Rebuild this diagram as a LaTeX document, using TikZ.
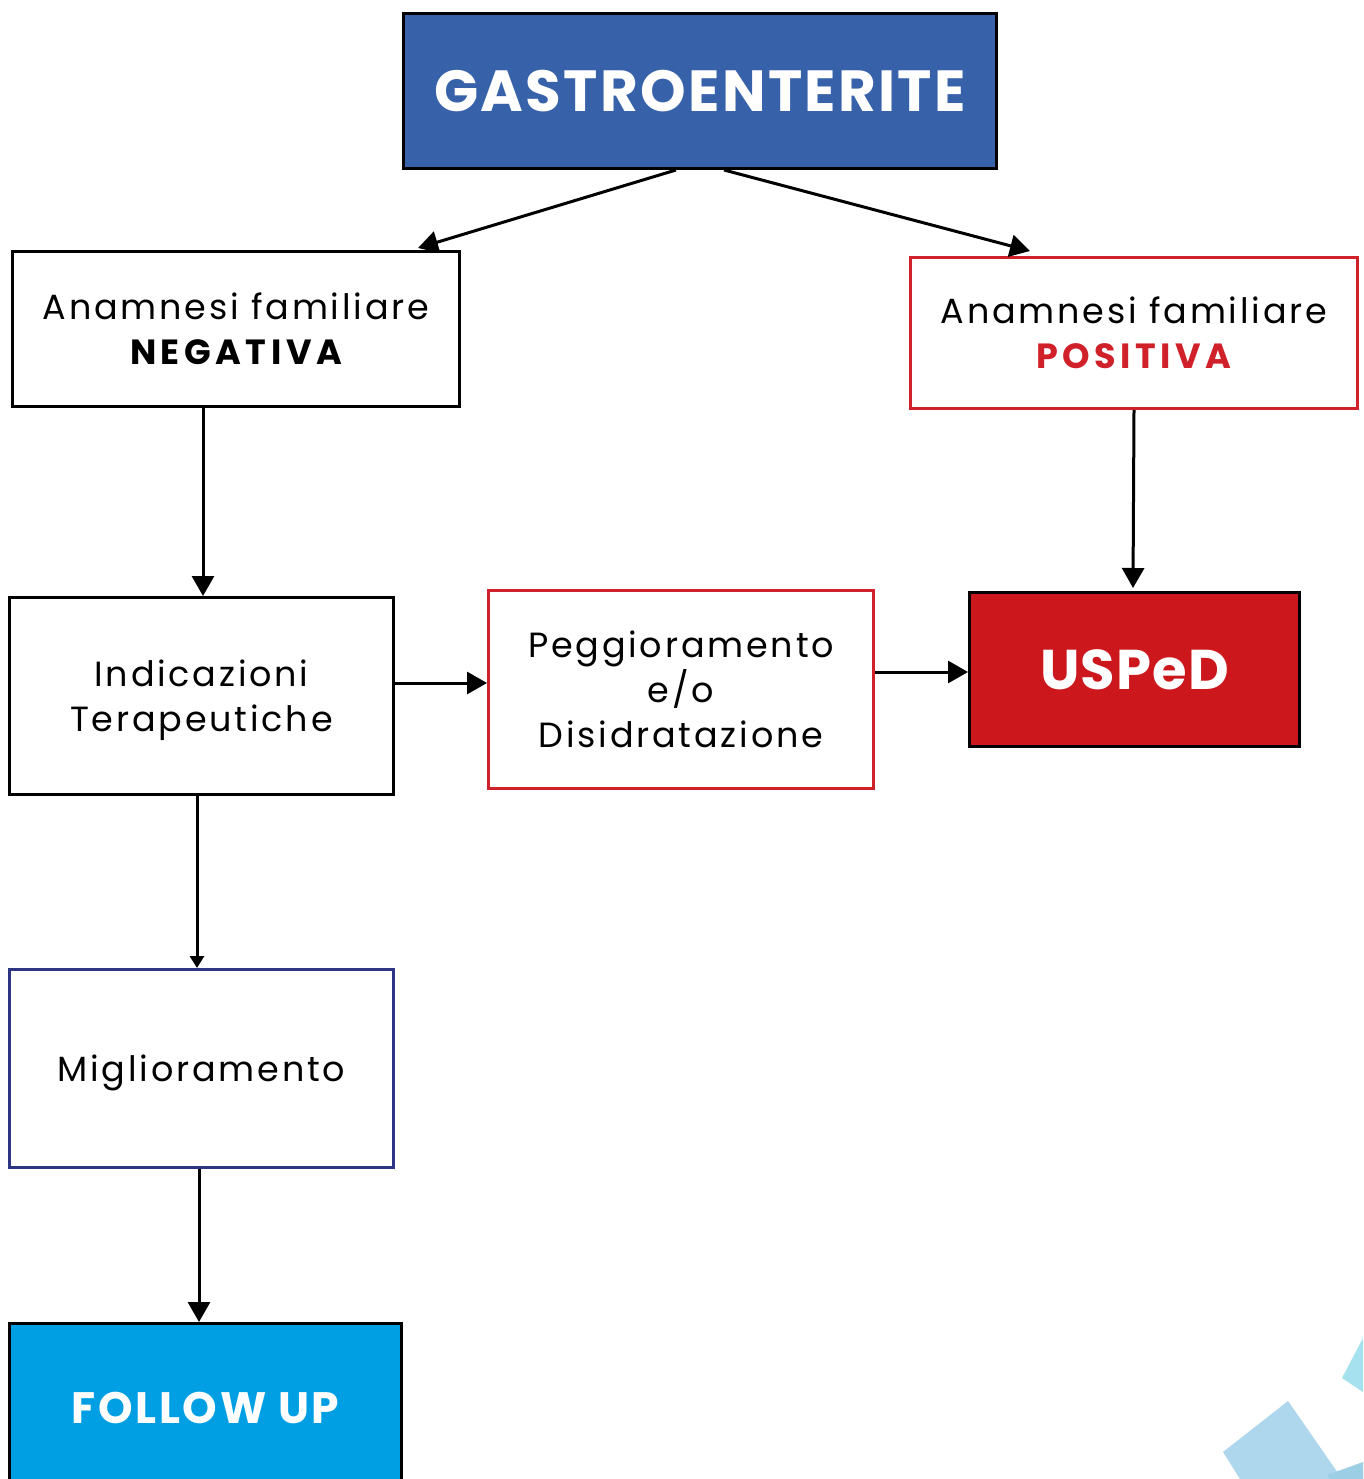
\documentclass[tikz,border=0pt]{standalone}
\usepackage{fontspec}
\setmainfont{Poppins}
\usetikzlibrary{arrows.meta,calc}
\definecolor{gblue}{HTML}{3762AA}
\definecolor{ured}{HTML}{CC181C}
\definecolor{bred}{HTML}{D0212A}
\definecolor{navy}{HTML}{2E3583}
\definecolor{fcyan}{HTML}{009FE3}
\definecolor{deco1}{HTML}{AED6EC}
\definecolor{deco2}{HTML}{A6E1F0}
\definecolor{deco3}{HTML}{9CCFE6}
\newcommand{\bwd}[1]{{\bfseries\addfontfeature{LetterSpace=13}#1}}
\newcommand{\topstrut}{\rule{0pt}{36pt}}
\begin{document}
\begin{tikzpicture}[x=1pt,y=-1pt,
  box/.style={draw=black,line width=3pt,anchor=north west,inner sep=0pt,align=center,
    font=\fontsize{35}{45}\selectfont\addfontfeature{LetterSpace=8}},
  redbox/.style={box,draw=bred},
  arr/.style={line width=3pt,-{Triangle[length=20pt,width=22pt]}},
  sarr/.style={line width=3pt,-{Triangle[length=12pt,width=14pt]}}]
\clip (0,0) rectangle (1363,1479);
\fill[white] (0,0) rectangle (1363,1479);
% decoration
\fill[deco1] (1223,1452) -- (1288,1401) -- (1340,1476) -- (1363,1470) -- (1363,1479) -- (1240,1479) -- cycle;
\fill[deco2] (1342,1378) -- (1363,1338) -- (1363,1392) -- cycle;
\fill[deco3] (1327,1475) -- (1363,1462) -- (1363,1479) -- (1330,1479) -- cycle;
% nodes
\node[box,fill=gblue,minimum width=593pt,minimum height=155pt,text=white,
  font=\fontsize{58}{60}\selectfont\bfseries\addfontfeature{LetterSpace=4}] (g) at (402,12) {GASTROENTERITE};
\node[box,minimum width=447pt,minimum height=155pt] (neg) at (11,250) {Anamnesi familiare\\\bwd{NEGATIVA}};
\node[redbox,minimum width=447pt,minimum height=151pt] (pos) at (909,256) {Anamnesi familiare\\\textcolor{bred}{\bwd{POSITIVA}}};
\node[box,minimum width=384pt,minimum height=197pt] (ind) at (8,596) {\topstrut Indicazioni\\Terapeutiche};
\node[redbox,minimum width=385pt,minimum height=198pt] (peg) at (487,589) {Peggioramento\\e/o\\Disidratazione};
\node[box,fill=ured,minimum width=330pt,minimum height=154pt,text=white,
  font=\fontsize{56}{60}\selectfont\bfseries\addfontfeature{LetterSpace=2}] (usp) at (968,591) {USPeD};
\node[box,draw=navy,minimum width=384pt,minimum height=198pt] (mig) at (8,968) {\topstrut Miglioramento};
\node[box,fill=fcyan,minimum width=392pt,minimum height=168pt,text=white,
  font=\fontsize{44}{45}\selectfont\bfseries\addfontfeature{LetterSpace=6}] (fol) at (8,1322) {FOLLOW UP};
% connectors
\draw[arr] ([xshift=-24pt]g.south) -- ($(neg.north west)+(407,-2)$);
\draw[arr] ([xshift=24pt]g.south) -- ($(pos.north west)+(121,-5)$);
\draw[arr] (neg.south -| 203,0) -- (ind.north -| 203,0);
\draw[arr] (pos.south) -- (1133,588);
\draw[arr] (ind.east |- 0,683) -- (peg.west |- 0,683);
\draw[arr] (peg.east |- 0,672) -- (usp.west |- 0,672);
\draw[sarr] (ind.south -| 197,0) -- (mig.north -| 197,0);
\draw[arr] (mig.south -| 199,0) -- (fol.north -| 199,0);
\end{tikzpicture}
\end{document}
